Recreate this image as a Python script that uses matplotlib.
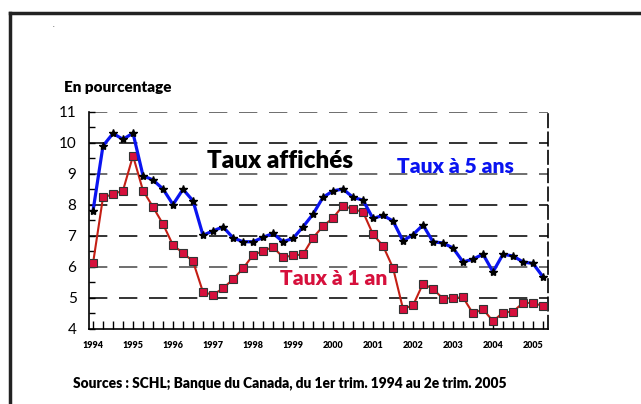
import matplotlib
matplotlib.use("Agg")
import matplotlib.pyplot as plt
import numpy as np

plt.rcParams['font.family'] = ['Lato', 'DejaVu Sans']

# quarterly, 1994 Q1 to 2005 Q2
years = list(range(1994, 2006))
rate_5y = [7.80, 9.90, 10.30, 10.11, 10.31, 8.94, 8.80, 8.51, 8.01, 8.50,
           8.13, 7.02, 7.16, 7.29, 6.94, 6.81, 6.81, 6.95, 7.08, 6.81,
           6.92, 7.29, 7.70, 8.24, 8.45, 8.51, 8.24, 8.15, 7.56, 7.66,
           7.48, 6.84, 7.04, 7.35, 6.81, 6.77, 6.61, 6.16, 6.25, 6.41,
           5.84, 6.41, 6.35, 6.16, 6.11, 5.68]
rate_1y = [6.11, 8.24, 8.34, 8.46, 9.58, 8.46, 7.93, 7.38, 6.70, 6.45,
           6.18, 5.19, 5.10, 5.31, 5.60, 5.95, 6.38, 6.51, 6.64, 6.31,
           6.37, 6.40, 6.94, 7.31, 7.58, 7.97, 7.86, 7.77, 7.05, 6.68,
           5.97, 4.65, 4.76, 5.46, 5.29, 4.98, 5.00, 5.02, 4.50, 4.64,
           4.25, 4.53, 4.56, 4.84, 4.84, 4.74]
y_ticks = [4, 5, 6, 7, 8, 9, 10, 11]

x = np.arange(len(rate_5y))

fig = plt.figure(figsize=(6.41, 4.04), dpi=100)
ax = fig.add_axes([89 / 641, 1 - 329 / 404, (548 - 89) / 641, (329 - 111.7) / 404])

# page frame
fig.add_artist(plt.Line2D([10 / 641, 10 / 641], [0, 1 - 12.5 / 404],
                          transform=fig.transFigure, color="#222222", lw=2.5))
fig.add_artist(plt.Line2D([10 / 641, 1], [1 - 12.5 / 404, 1 - 12.5 / 404],
                          transform=fig.transFigure, color="#222222", lw=2.5))
fig.text(53 / 641, 1 - 27 / 404, ".", fontsize=5, color="#444444")

# dashed horizontal lines
for v in y_ticks[1:]:
    ax.axhline(v, color="#555555" if v in (6, 9, 11) else "#111111",
               lw=1.2, dashes=(11, 7), zorder=1)

ax.plot(x, rate_1y, color="#c41e14", lw=1.5, marker="s", markersize=5.5,
        markerfacecolor="#d6103c", markeredgecolor="#333333", markeredgewidth=0.8, zorder=3)
ax.plot(x, rate_5y, color="#0a14f0", lw=2.3, marker="*", markersize=6,
        markerfacecolor="black", markeredgecolor="black", zorder=4)

ax.set_xlim(-0.4, len(x) - 0.5)
ax.set_ylim(4, 11)

ax.set_yticks(y_ticks)
ax.set_yticklabels([str(v) for v in y_ticks], fontsize=11)
ax.set_yticks(np.arange(4, 11.01, 0.5), minor=True)
ax.set_xticks(x, minor=True)
ax.set_xticks(x[::4])
ax.set_xticklabels([str(y) for y in years], fontsize=6.5, fontweight="heavy")

ax.tick_params(axis="y", which="both", direction="in", length=4, width=1, pad=9)
ax.tick_params(axis="x", which="both", direction="in", length=6, width=1, pad=9)

ax.spines["top"].set_visible(False)
ax.spines["right"].set_linestyle((0, (8, 3)))
for s in ("left", "bottom", "right"):
    ax.spines[s].set_linewidth(1.2)

ax.text(11.4, 9.18, "Taux affichés", fontsize=17.5,
        fontweight="heavy", color="black", ha="left", va="baseline", zorder=5)
ax.text(30.4, 9.03, "Taux à 5 ans", fontsize=15,
        fontweight="heavy", color="#0a14f0", ha="left", va="baseline", zorder=5)
ax.text(18.7, 5.41, "Taux à 1 an", fontsize=15,
        fontweight="heavy", color="#d6103c", ha="left", va="baseline", zorder=5)

fig.text(64 / 641, 1 - 88 / 404, "En pourcentage", fontsize=11, fontweight="heavy",
         ha="left", va="center")
fig.text(73 / 641, 1 - 383 / 404,
         "Sources : SCHL; Banque du Canada, du 1er trim. 1994 au 2e trim. 2005",
         fontsize=9.95, fontweight="heavy", ha="left", va="center")

fig.savefig("out.png", dpi=100)
